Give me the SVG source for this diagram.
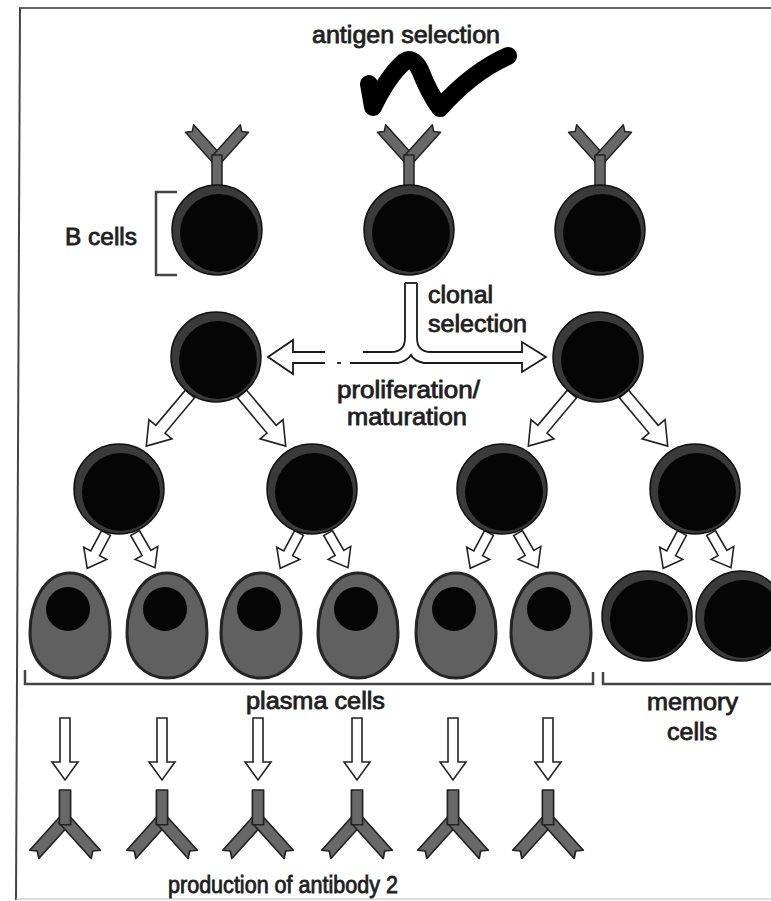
<svg xmlns="http://www.w3.org/2000/svg" xmlns:xlink="http://www.w3.org/1999/xlink" width="771" height="901" viewBox="0 0 771 901">
  <style>
    .ring { fill: #3a3a3a; stroke: #111; stroke-width: 1.5; }
    .core { fill: #050505; }
    .plasma { fill: #606060; stroke: #252525; stroke-width: 3; }
    .ab { fill: #686868; stroke: #222; stroke-width: 1.5; stroke-linejoin: round; }
    .arrow { fill: #fff; stroke: #222; stroke-width: 1.6; stroke-linejoin: miter; }
    .line { fill: none; stroke: #1a1a1a; stroke-width: 1.8; }
    .bracket { fill: none; stroke: #444; stroke-width: 2.5; }
    .txt { font-family: "Liberation Sans", Arial, sans-serif; font-weight: normal; font-size: 23px; fill: #1e1e1e; stroke: #1e1e1e; stroke-width: 0.8; text-anchor: start; }
  </style>
  <defs>
    <!-- B cell: dark ring with an off-centre black body -->
    <g id="bcell">
      <circle class="ring" cx="0" cy="0" r="45"/>
      <circle class="core" cx="2" cy="3" r="39"/>
    </g>
    <!-- plasma cell: egg shape with a round nucleus -->
    <g id="plasma">
      <path class="plasma" d="M0,-52 C24,-52 40,-25 40,8 C40,36 22,53 0,53 C-22,53 -40,36 -40,8 C-40,-25 -24,-52 0,-52 Z"/>
      <circle class="core" cx="-2" cy="-16" r="22"/>
    </g>
    <!-- antibody, origin at stem base, opening upward -->
    <g id="antibody">
      <path class="ab" d="M-5.5,2 L-5.5,-41 L0,-37 L5.5,-41 L5.5,2 Z" transform="translate(0,-27) rotate(-42)"/>
      <path class="ab" d="M-5.5,2 L-5.5,-41 L0,-37 L5.5,-41 L5.5,2 Z" transform="translate(0,-27) rotate(42)"/>
      <rect class="ab" x="-5" y="-31" width="10" height="31"/>
    </g>
    <!-- hollow block arrows, tail at origin, pointing +x -->
    <path id="arrowBig" class="arrow" d="M0,-6 L46,-6 L46,-15 L68,0 L46,15 L46,6 L0,6 Z"/>
    <path id="arrowSmall" class="arrow" d="M0,-5 L23,-5 L23,-13 L40,0 L23,13 L23,5 L0,5 Z"/>
    <path id="arrowDown" class="arrow" d="M0,-5 L44,-5 L44,-13 L62,0 L44,13 L44,5 L0,5 Z"/>
  </defs>

  <rect x="0" y="0" width="771" height="901" fill="#fff"/>

  <!-- frame -->
  <g id="frame">
    <path d="M19,8 L771,8" stroke="#666" stroke-width="2" fill="none"/>
    <path d="M20,8 L16,900" stroke="#444" stroke-width="2" fill="none"/>
    <path d="M16,899 L771,899" stroke="#bbb" stroke-width="1" fill="none"/>
  </g>

  <!-- antigen -->
  <g id="antigen">
    <path d="M369,84 L373,107 Q388,76 404,62 Q413,56 420,70 Q430,95 440,108 Q472,72 508,56" fill="none" stroke="#000" stroke-width="18" stroke-linecap="round" stroke-linejoin="round"/>
    <text class="txt" x="312" y="43" textLength="188" lengthAdjust="spacingAndGlyphs">antigen selection</text>
  </g>

  <!-- connectors -->
  <g id="connectors">
    <!-- clonal selection split arrow -->
    <path class="line" d="M405,283 L417,283"/>
    <path class="line" d="M405,283 L405,338 Q405,352 391,352 L363,352"/>
    <path class="line" d="M417,283 L417,338 Q417,352 431,352 L522,352 L522,342 L546,357 L522,372 L522,363 L424,363 Q414,361 411,355 Q407,361 398,363 L350,363"/>
    <path class="line" d="M337,363 L341,363"/>
    <path class="line" d="M325,352 L293,352 L293,340 L268,357 L293,374 L293,363 L325,363"/>

    <!-- proliferation -->
    <use xlink:href="#arrowBig" transform="translate(190,394) rotate(130)"/>
    <use xlink:href="#arrowBig" transform="translate(242,394) rotate(50)"/>
    <use xlink:href="#arrowBig" transform="translate(572,394) rotate(130)"/>
    <use xlink:href="#arrowBig" transform="translate(624,394) rotate(50)"/>

    <!-- maturation -->
    <use xlink:href="#arrowSmall" transform="translate(106,533) rotate(118)"/>
    <use xlink:href="#arrowSmall" transform="translate(135,533) rotate(60)"/>
    <use xlink:href="#arrowSmall" transform="translate(299,533) rotate(118)"/>
    <use xlink:href="#arrowSmall" transform="translate(328,533) rotate(60)"/>
    <use xlink:href="#arrowSmall" transform="translate(489,533) rotate(118)"/>
    <use xlink:href="#arrowSmall" transform="translate(518,533) rotate(60)"/>
    <use xlink:href="#arrowSmall" transform="translate(682,533) rotate(118)"/>
    <use xlink:href="#arrowSmall" transform="translate(711,533) rotate(60)"/>

    <!-- antibody secretion -->
    <use xlink:href="#arrowDown" transform="translate(65,718) rotate(90)"/>
    <use xlink:href="#arrowDown" transform="translate(162,718) rotate(90)"/>
    <use xlink:href="#arrowDown" transform="translate(258,718) rotate(90)"/>
    <use xlink:href="#arrowDown" transform="translate(357,718) rotate(90)"/>
    <use xlink:href="#arrowDown" transform="translate(453,718) rotate(90)"/>
    <use xlink:href="#arrowDown" transform="translate(548,718) rotate(90)"/>
  </g>

  <!-- resting B cells with surface receptors -->
  <g id="bcell-1">
    <use xlink:href="#antibody" transform="translate(217,186)"/>
    <use xlink:href="#bcell" transform="translate(217,230)"/>
  </g>
  <g id="bcell-2">
    <use xlink:href="#antibody" transform="translate(409,186)"/>
    <use xlink:href="#bcell" transform="translate(409,230)"/>
  </g>
  <g id="bcell-3">
    <use xlink:href="#antibody" transform="translate(600,186)"/>
    <use xlink:href="#bcell" transform="translate(600,230)"/>
  </g>
  <g id="bcells-label">
    <path class="bracket" d="M177,192 L156,192 L156,275 L177,275" stroke-width="2"/>
    <text class="txt" x="65" y="245" textLength="72" lengthAdjust="spacingAndGlyphs">B cells</text>
  </g>

  <g id="clonal-label">
    <text class="txt" x="428" y="303" textLength="65" lengthAdjust="spacingAndGlyphs">clonal</text>
    <text class="txt" x="428" y="332" textLength="99" lengthAdjust="spacingAndGlyphs">selection</text>
  </g>
  <g id="proliferation-label">
    <text class="txt" x="337" y="398" textLength="143" lengthAdjust="spacingAndGlyphs">proliferation/</text>
    <text class="txt" x="347" y="425" textLength="120" lengthAdjust="spacingAndGlyphs">maturation</text>
  </g>

  <!-- selected clones -->
  <g id="clone-left"><use xlink:href="#bcell" transform="translate(216,357)"/></g>
  <g id="clone-right"><use xlink:href="#bcell" transform="translate(598,357)"/></g>

  <!-- second generation -->
  <g id="gen2-1"><use xlink:href="#bcell" transform="translate(119,489)"/></g>
  <g id="gen2-2"><use xlink:href="#bcell" transform="translate(312,489)"/></g>
  <g id="gen2-3"><use xlink:href="#bcell" transform="translate(502,489)"/></g>
  <g id="gen2-4"><use xlink:href="#bcell" transform="translate(695,489)"/></g>

  <!-- plasma cells -->
  <g id="plasma-1"><use xlink:href="#plasma" transform="translate(70,625)"/></g>
  <g id="plasma-2"><use xlink:href="#plasma" transform="translate(167,625)"/></g>
  <g id="plasma-3"><use xlink:href="#plasma" transform="translate(261,625)"/></g>
  <g id="plasma-4"><use xlink:href="#plasma" transform="translate(358,625)"/></g>
  <g id="plasma-5"><use xlink:href="#plasma" transform="translate(456,625)"/></g>
  <g id="plasma-6"><use xlink:href="#plasma" transform="translate(551,625)"/></g>

  <!-- memory cells -->
  <g id="memory-1"><use xlink:href="#bcell" transform="translate(647,616)"/></g>
  <g id="memory-2"><use xlink:href="#bcell" transform="translate(741,616)"/></g>

  <g id="plasma-label">
    <path class="bracket" d="M25,670 L25,684 L593,684 L593,672"/>
    <text class="txt" x="246" y="709" textLength="139" lengthAdjust="spacingAndGlyphs">plasma cells</text>
  </g>
  <g id="memory-label">
    <path class="bracket" d="M603,672 L603,684 L771,684"/>
    <text class="txt" x="647" y="710" textLength="91" lengthAdjust="spacingAndGlyphs">memory</text>
    <text class="txt" x="667" y="740" textLength="50" lengthAdjust="spacingAndGlyphs">cells</text>
  </g>

  <!-- secreted antibodies -->
  <g id="antibody-1"><use xlink:href="#antibody" transform="translate(65,790) scale(1.12,-1.12)"/></g>
  <g id="antibody-2"><use xlink:href="#antibody" transform="translate(162,790) scale(1.12,-1.12)"/></g>
  <g id="antibody-3"><use xlink:href="#antibody" transform="translate(258,790) scale(1.12,-1.12)"/></g>
  <g id="antibody-4"><use xlink:href="#antibody" transform="translate(357,790) scale(1.12,-1.12)"/></g>
  <g id="antibody-5"><use xlink:href="#antibody" transform="translate(453,790) scale(1.12,-1.12)"/></g>
  <g id="antibody-6"><use xlink:href="#antibody" transform="translate(548,790) scale(1.12,-1.12)"/></g>
  <g id="antibody-label">
    <text class="txt" x="168" y="893" textLength="230" lengthAdjust="spacingAndGlyphs">production of antibody 2</text>
  </g>
</svg>
